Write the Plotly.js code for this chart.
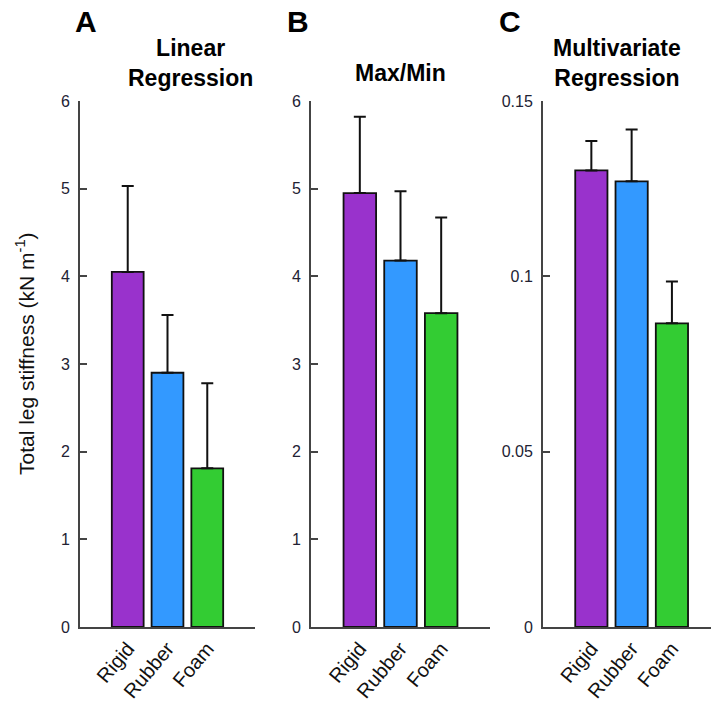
<!DOCTYPE html>
<html>
<head>
<meta charset="utf-8">
<script src="https://cdn.plot.ly/plotly-3.0.1.min.js"></script>
<style>html,body{margin:0;padding:0;background:#fff;}#chart{width:711px;height:706px;}</style>
</head>
<body>
<div id="chart"></div>
<script>
// ---- data ----
const categories = ["Rigid", "Rubber", "Foam"];
const barColors = ["#9932CC", "#3399FF", "#33CC33"];

const linearMean = [4.05, 2.90, 1.81];
const linearErr  = [0.98, 0.66, 0.97];

const maxMinMean = [4.95, 4.18, 3.58];
const maxMinErr  = [0.87, 0.79, 1.09];

const multiMean = [0.1302, 0.1271, 0.0866];
const multiErr  = [0.0084, 0.0148, 0.0119];

const panelTitles = ["Linear<br>Regression", "Max/Min", "Multivariate<br>Regression"];
const panelLetters = ["A", "B", "C"];
const yTitle = "Total leg stiffness (kN m<sup>-1</sup>)";

const yTicksAB = [0, 1, 2, 3, 4, 5, 6];
const yTicksC = [0, 0.05, 0.1, 0.15];
const yTickTextC = ["0", "0.05", "0.1", "0.15"];

// ---- layout helpers ----
const W = 711, H = 706;
const px = v => v / W;
const py = v => 1 - v / H;
const FAM = "Liberation Sans, Arial, sans-serif";

function barTrace(means, errs, xa, ya) {
  return {
    type: "bar", x: categories, y: means, xaxis: xa, yaxis: ya,
    width: 0.8,
    marker: { color: barColors, line: { color: "#111", width: 1.8 } },
    error_y: { type: "data", array: errs, arrayminus: errs.map(() => 0), symmetric: false,
               color: "#111", thickness: 2, width: 6 },
    showlegend: false, hoverinfo: "skip"
  };
}

const data = [
  barTrace(linearMean, linearErr, "x", "y"),
  barTrace(maxMinMean, maxMinErr, "x2", "y2"),
  barTrace(multiMean, multiErr, "x3", "y3")
];

const yDomain = [py(627), py(101)];
const tickFont = { family: FAM, size: 16, color: "#222233" };
const xTickFont = { family: FAM, size: 20, color: "#111" };

function xAxis(d0, d1, anchor, rmax) {
  return {
    domain: [px(d0), px(d1)], anchor: anchor, type: "category",
    range: [-1.2, rmax], showgrid: false, zeroline: false,
    showline: true, linecolor: "#444", linewidth: 2,
    ticks: "", tickangle: -50, tickfont: xTickFont, automargin: false, fixedrange: true
  };
}
function yAxis(anchor, range, tickvals, ticktext) {
  const a = {
    domain: yDomain, anchor: anchor, range: range,
    showgrid: false, zeroline: false, showline: true, linecolor: "#444", linewidth: 2,
    ticks: "inside", ticklen: 7, tickwidth: 2, tickcolor: "#444",
    ticklabelstandoff: 5,
    tickvals: tickvals, tickfont: tickFont, automargin: false, fixedrange: true
  };
  if (ticktext) a.ticktext = ticktext;
  return a;
}

const titleFont = { family: FAM, size: 23, color: "#000", weight: "bold" };
const letterFont = { family: FAM, size: 30, color: "#000", weight: "bold" };

const annotations = [
  { text: panelLetters[0], x: px(86), y: py(21), font: letterFont },
  { text: panelLetters[1], x: px(298), y: py(21), font: letterFont },
  { text: panelLetters[2], x: px(510), y: py(21), font: letterFont },
  { text: panelTitles[0], x: px(191), y: py(63), font: titleFont },
  { text: panelTitles[1], x: px(400), y: py(73), font: titleFont },
  { text: panelTitles[2], x: px(617), y: py(63), font: titleFont },
  { text: yTitle, x: px(25), y: py(354), textangle: -90,
    font: { family: FAM, size: 21, color: "#111" } }
].map(a => Object.assign({ xref: "paper", yref: "paper", showarrow: false,
                            xanchor: "center", yanchor: "middle" }, a));

const layout = {
  width: W, height: H,
  margin: { l: 0, r: 0, t: 0, b: 0 },
  paper_bgcolor: "#fff", plot_bgcolor: "#fff",
  bargap: 0.2,
  xaxis: xAxis(80, 255, "y", 3.2),
  xaxis2: xAxis(311, 490, "y2", 3.2),
  xaxis3: xAxis(543, 711, "y3", 2.97),
  yaxis: yAxis("x", [0, 6], yTicksAB),
  yaxis2: yAxis("x2", [0, 6], yTicksAB),
  yaxis3: yAxis("x3", [0, 0.15], yTicksC, yTickTextC),
  annotations: annotations
};

Plotly.newPlot("chart", data, layout, { staticPlot: true, displayModeBar: false });
</script>
</body>
</html>
